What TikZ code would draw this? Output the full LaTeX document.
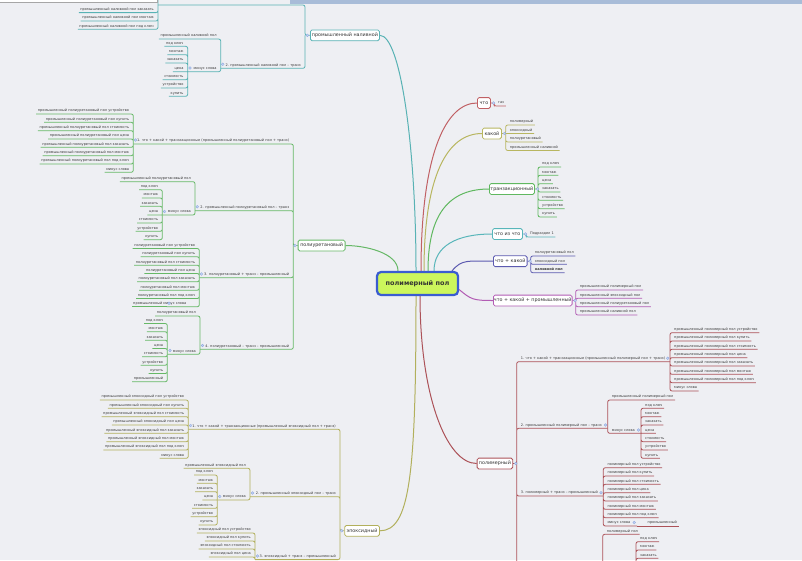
\documentclass[tikz,border=0pt]{standalone}
\usepackage{fontspec}
\setmainfont{DejaVu Sans}
\usetikzlibrary{positioning}

\definecolor{bgpaper}{RGB}{238,239,243}
\definecolor{topbar}{RGB}{168,188,216}
\definecolor{cnal}{RGB}{88,178,180}
\definecolor{cpur}{RGB}{102,184,102}
\definecolor{cepo}{RGB}{178,176,92}
\definecolor{cpm}{RGB}{172,82,88}
\definecolor{cchto}{RGB}{192,96,100}
\definecolor{ckak}{RGB}{184,182,96}
\definecolor{ctr}{RGB}{96,184,96}
\definecolor{ciz}{RGB}{88,182,186}
\definecolor{cck}{RGB}{92,90,176}
\definecolor{cckp}{RGB}{178,92,180}
\definecolor{mfill}{RGB}{196,212,244}
\definecolor{mdraw}{RGB}{140,166,222}
\definecolor{cfill}{RGB}{204,246,92}
\definecolor{cdraw}{RGB}{58,92,208}

\pgfdeclarelayer{bg}
\pgfdeclarelayer{lines}
\pgfsetlayers{bg,lines,main}

\begin{document}
\begin{tikzpicture}[x=1pt, y=-1pt,
  leaf/.style={inner xsep=1.5pt, inner ysep=1.3pt, text height=2.7pt, text depth=0.7pt, font=\fontsize{3.5}{4.2}\selectfont, text=black!78},
  leafR/.style={leaf, anchor=south west},
  leafL/.style={leaf, anchor=south east},
  topic/.style={rectangle, draw, fill=white, rounded corners=1.6pt, line width=0.8pt, minimum height=10.8pt, inner sep=0pt, anchor=west, font=\fontsize{4.8}{5.5}\selectfont, text=black!80},
  central/.style={rectangle, draw=cdraw, fill=cfill, rounded corners=4pt, line width=2.2pt, minimum width=81pt, minimum height=23pt, font=\fontsize{6.5}{7}\selectfont\bfseries, text=black!80},
  foldmark/.style={circle, fill=mfill, draw=mdraw, line width=0.3pt, minimum size=2.8pt, inner sep=0pt},
  elbow/.style={line width=0.8pt, rounded corners=2pt},
  branch/.style={line width=1pt}
]
\useasboundingbox (0,0) rectangle (802,560);
\begin{pgfonlayer}{bg}
\fill[bgpaper] (0,0) rectangle (802,560);
\end{pgfonlayer}

% centre and main topics
\node[central] (pol) at (417.5,283.5) {полимерный пол};
\node[topic, draw=cchto, minimum width=13pt] (chto) at (477,103) {что};
\node[topic, draw=ckak, minimum width=19pt] (kakoy) at (482,133.5) {какой};
\node[topic, draw=ctr, minimum width=45pt] (tranz) at (489,189) {транзакционный};
\node[topic, draw=ciz, minimum width=30pt] (chtoiz) at (492,234) {что из что};
\node[topic, draw=cck, minimum width=33.7pt] (chk) at (493,261.2) {что + какой};
\node[topic, draw=cckp, minimum width=78.7pt] (chkp) at (493,300.5) {что + какой + промышленный};
\node[topic, draw=cpm, minimum width=35.6pt] (polim) at (476.7,463.5) {полимерный};
\node[topic, draw=cnal, minimum width=69pt] (naliv) at (310,35.3) {промышленный наливной};
\node[topic, draw=cpur, minimum width=47pt] (poliur) at (297.7,245.5) {полиуретановый};
\node[topic, draw=cepo, minimum width=34.7pt] (epox) at (344.3,530.8) {эпоксидный};

\coordinate (chto-o) at (494,103);
\coordinate (kakoy-o) at (505.7,133.5);
\coordinate (tranz-o) at (538,189);
\coordinate (chtoiz-o) at (526,234);
\coordinate (chk-o) at (530.7,261.2);
\coordinate (chkp-o) at (575.7,300.5);
\coordinate (polim-o) at (516.7,463.5);
\coordinate (naliv-o) at (305,35.3);
\coordinate (poliur-o) at (293.3,245.5);
\coordinate (epox-o) at (340,530.8);

% что, какой, транзакционный, что из что
\node[leafR] (gaz) at (496.5,106) {газ};
\node[leafR] (kak1) at (508.2,125) {полимерный};
\node[leafR] (kak2) at (508.2,133.5) {эпоксидный};
\node[leafR] (kak3) at (508.2,142) {полиуретановый};
\node[leafR] (kak4) at (508.2,150.5) {промышленный наливной};
\node[leafR] (tr1) at (540.5,167) {под ключ};
\node[leafR] (tr2) at (540.5,175.3) {монтаж};
\node[leafR] (tr3) at (540.5,183.7) {цена};
\node[leafR] (tr4) at (540.5,192) {заказать};
\node[leafR] (tr5) at (540.5,200.3) {стоимость};
\node[leafR] (tr6) at (540.5,208.7) {устройство};
\node[leafR] (tr7) at (540.5,217) {купить};
\node[leafR] (iz1) at (528.5,237) {Подраздел 1};
\node[leafR] (ck1) at (533.2,256) {полиуретановый пол};
\node[leafR] (ck2) at (533.2,264.3) {эпоксидный пол};
\node[leafR, font=\fontsize{3.5}{4.2}\selectfont\bfseries] (ck3) at (533.2,272.7) {наливной пол};
\node[leafR] (ckp1) at (578.2,290) {промышленный полимерный пол};
\node[leafR] (ckp2) at (578.2,298.3) {промышленный эпоксидный пол};
\node[leafR] (ckp3) at (578.2,306.7) {промышленный полиуретановый пол};
\node[leafR] (ckp4) at (578.2,315) {промышленный наливной пол};

% полимерный
\node[leafR] (pm1) at (519.2,361.7) {1. что + какой + транзакционные (промышленный полимерный пол + транз)};
\coordinate (pm1-o) at (670,361.7);
\node[leafR] (pm1a) at (672.5,332.7) {промышленный полимерный пол устройство};
\node[leafR] (pm1b) at (672.5,341) {промышленный полимерный пол купить};
\node[leafR] (pm1c) at (672.5,349.3) {промышленный полимерный пол стоимость};
\node[leafR] (pm1d) at (672.5,357.7) {промышленный полимерный пол цена};
\node[leafR] (pm1e) at (672.5,366) {промышленный полимерный пол заказать};
\node[leafR] (pm1f) at (672.5,374.3) {промышленный полимерный пол монтаж};
\node[leafR] (pm1g) at (672.5,382.7) {промышленный полимерный пол под ключ};
\node[leafR] (pm1h) at (672.5,391) {минус слова};
\node[leafR] (pm2) at (519.2,428.3) {2. промышленный полимерный пол – транз};
\coordinate (pm2-o) at (607.7,428.3);
\node[leafR] (pm2a) at (610.2,400) {промышленный полимерный пол};
\node[leafR] (pm2m) at (610.2,433.3) {минус слова};
\coordinate (pm2m-o) at (641,433.3);
\node[leafR] (pm2m1) at (643.5,408.3) {под ключ};
\node[leafR] (pm2m2) at (643.5,416.7) {монтаж};
\node[leafR] (pm2m3) at (643.5,425) {заказать};
\node[leafR] (pm2m4) at (643.5,433.3) {цена};
\node[leafR] (pm2m5) at (643.5,441.7) {стоимость};
\node[leafR] (pm2m6) at (643.5,450) {устройство};
\node[leafR] (pm2m7) at (643.5,458.3) {купить};
\node[leafR] (pm3) at (519.2,496) {3. полимерный + транз – промышленный};
\coordinate (pm3-o) at (603.3,496);
\node[leafR] (pm3a) at (605.8,467.7) {полимерный пол устройство};
\node[leafR] (pm3b) at (605.8,476) {полимерный пол купить};
\node[leafR] (pm3c) at (605.8,484.3) {полимерный пол стоимость};
\node[leafR] (pm3d) at (605.8,492.7) {полимерный пол цена};
\node[leafR] (pm3e) at (605.8,501) {полимерный пол заказать};
\node[leafR] (pm3f) at (605.8,509.3) {полимерный пол монтаж};
\node[leafR] (pm3g) at (605.8,517.7) {полимерный пол под ключ};
\node[leafR] (pm3m) at (605.8,526) {минус слова};
\coordinate (pm3m-o) at (637,526);
\node[leafR] (pm3x) at (646,526) {промышленный};
\coordinate (pm4-o) at (602.7,585);
\node[leafR] (pm4a) at (605.2,534.3) {полимерный пол};
\coordinate (pm4m-o) at (636,590);
\node[leafR] (pm4m1) at (638.5,541.7) {под ключ};
\node[leafR] (pm4m2) at (638.5,550) {монтаж};
\node[leafR] (pm4m3) at (638.5,558.3) {заказать};

% промышленный наливной
\coordinate (nal1-o) at (158,5);
\coordinate (nal1-t) at (158,-20);
\node[leafL] (nal1a) at (155.5,12.6) {промышленный наливной пол заказать};
\node[leafL] (nal1b) at (155.5,21) {промышленный наливной пол монтаж};
\node[leafL] (nal1c) at (155.5,29.3) {промышленный наливной пол под ключ};
\node[leafL] (nal2) at (302.5,68.3) {2. промышленный наливной пол – транз};
\coordinate (nal2-o) at (220.7,68.3);
\node[leafL] (nal2a) at (218.2,39) {промышленный наливной пол};
\node[leafL] (nal2m) at (218.2,71.7) {минус слова};
\coordinate (nal2m-o) at (187.7,71.7);
\node[leafL] (nal2m1) at (185.2,46.3) {под ключ};
\node[leafL] (nal2m2) at (185.2,54.7) {монтаж};
\node[leafL] (nal2m3) at (185.2,63) {заказать};
\node[leafL] (nal2m4) at (185.2,71.7) {цена};
\node[leafL] (nal2m5) at (185.2,79.7) {стоимость};
\node[leafL] (nal2m6) at (185.2,88) {устройство};
\node[leafL] (nal2m7) at (185.2,96.3) {купить};

% полиуретановый
\node[leafL] (pu1) at (290.8,144) {1. что + какой + транзакционные (промышленный полиуретановый пол + транз)};
\coordinate (pu1-o) at (133.3,144);
\node[leafL] (pu1a) at (130.8,114) {промышленный полиуретановый пол устройство};
\node[leafL] (pu1b) at (130.8,122.3) {промышленный полиуретановый пол купить};
\node[leafL] (pu1c) at (130.8,130.7) {промышленный полиуретановый пол стоимость};
\node[leafL] (pu1d) at (130.8,139) {промышленный полиуретановый пол цена};
\node[leafL] (pu1e) at (130.8,147.3) {промышленный полиуретановый пол заказать};
\node[leafL] (pu1f) at (130.8,155.7) {промышленный полиуретановый пол монтаж};
\node[leafL] (pu1g) at (130.8,164) {промышленный полиуретановый пол под ключ};
\node[leafL] (pu1h) at (130.8,172.3) {минус слова};
\node[leafL] (pu2) at (290.8,210.7) {2. промышленный полиуретановый пол – транз};
\coordinate (pu2-o) at (195,210.7);
\node[leafL] (pu2a) at (192.5,181.7) {промышленный полиуретановый пол};
\node[leafL] (pu2m) at (192.5,215) {минус слова};
\coordinate (pu2m-o) at (162.3,215);
\node[leafL] (pu2m1) at (159.8,189.7) {под ключ};
\node[leafL] (pu2m2) at (159.8,198) {монтаж};
\node[leafL] (pu2m3) at (159.8,206.3) {заказать};
\node[leafL] (pu2m4) at (159.8,215) {цена};
\node[leafL] (pu2m5) at (159.8,223) {стоимость};
\node[leafL] (pu2m6) at (159.8,231.3) {устройство};
\node[leafL] (pu2m7) at (159.8,239.7) {купить};
\node[leafL] (pu3) at (290.8,277.7) {3. полиуретановый + транз – промышленный};
\coordinate (pu3-o) at (199.3,277.7);
\node[leafL] (pu3a) at (196.8,248.5) {полиуретановый пол устройство};
\node[leafL] (pu3b) at (196.8,256.8) {полиуретановый пол купить};
\node[leafL] (pu3c) at (196.8,265.2) {полиуретановый пол стоимость};
\node[leafL] (pu3d) at (196.8,273.5) {полиуретановый пол цена};
\node[leafL] (pu3e) at (196.8,281.8) {полиуретановый пол заказать};
\node[leafL] (pu3f) at (196.8,290.2) {полиуретановый пол монтаж};
\node[leafL] (pu3g) at (196.8,298.5) {полиуретановый пол под ключ};
\node[leafL] (pu3m) at (188,306.8) {минус слова};
\coordinate (pu3m-o) at (166.7,306.8);
\node[leafL] (pu3x) at (164.2,306.8) {промышленный};
\node[leafL] (pu4) at (290.8,349.3) {4. полиуретановый – транз – промышленный};
\coordinate (pu4-o) at (200,349.3);
\node[leafL] (pu4a) at (197.5,316) {полиуретановый пол};
\node[leafL] (pu4m) at (197.5,354.3) {минус слова};
\coordinate (pu4m-o) at (167.3,354.3);
\node[leafL] (pu4m1) at (164.8,323.5) {под ключ};
\node[leafL] (pu4m2) at (164.8,331.8) {монтаж};
\node[leafL] (pu4m3) at (164.8,340.2) {заказать};
\node[leafL] (pu4m4) at (164.8,348.5) {цена};
\node[leafL] (pu4m5) at (164.8,356.8) {стоимость};
\node[leafL] (pu4m6) at (164.8,365.2) {устройство};
\node[leafL] (pu4m7) at (164.8,373.5) {купить};
\node[leafL] (pu4m8) at (164.8,381.8) {промышленный};

% эпоксидный
\node[leafL] (ep1) at (337.5,429.3) {1. что + какой + транзакционные (промышленный эпоксидный пол + транз)};
\coordinate (ep1-o) at (188.3,429.3);
\node[leafL] (ep1a) at (185.8,400) {промышленный эпоксидный пол устройство};
\node[leafL] (ep1b) at (185.8,408.3) {промышленный эпоксидный пол купить};
\node[leafL] (ep1c) at (185.8,416.7) {промышленный эпоксидный пол стоимость};
\node[leafL] (ep1d) at (185.8,425) {промышленный эпоксидный пол цена};
\node[leafL] (ep1e) at (185.8,433.3) {промышленный эпоксидный пол заказать};
\node[leafL] (ep1f) at (185.8,441.7) {промышленный эпоксидный пол монтаж};
\node[leafL] (ep1g) at (185.8,450) {промышленный эпоксидный пол под ключ};
\node[leafL] (ep1h) at (185.8,458.3) {минус слова};
\node[leafL] (ep2) at (337.5,496.7) {2. промышленный эпоксидный пол – транз};
\coordinate (ep2-o) at (250,496.7);
\node[leafL] (ep2a) at (247.5,468.3) {промышленный эпоксидный пол};
\node[leafL] (ep2m) at (247.5,500) {минус слова};
\coordinate (ep2m-o) at (217.3,500);
\node[leafL] (ep2m1) at (214.8,475) {под ключ};
\node[leafL] (ep2m2) at (214.8,483.3) {монтаж};
\node[leafL] (ep2m3) at (214.8,491.7) {заказать};
\node[leafL] (ep2m4) at (214.8,500) {цена};
\node[leafL] (ep2m5) at (214.8,508.3) {стоимость};
\node[leafL] (ep2m6) at (214.8,516.7) {устройство};
\node[leafL] (ep2m7) at (214.8,525) {купить};
\node[leafL] (ep3) at (337.5,559.6) {3. эпоксидный + транз – промышленный};
\coordinate (ep3-o) at (255,559.6);
\node[leafL] (ep3a) at (252.5,533) {эпоксидный пол устройство};
\node[leafL] (ep3b) at (252.5,541) {эпоксидный пол купить};
\node[leafL] (ep3c) at (252.5,549) {эпоксидный пол стоимость};
\node[leafL] (ep3d) at (252.5,557) {эпоксидный пол цена};

\begin{pgfonlayer}{lines}
% curves from the centre
\draw[branch, cnal] ([xshift=-1.5pt]pol.north) .. controls +(0,-122) and +(21,0) .. (naliv.east);
\draw[branch, cchto] ([xshift=3.5pt]pol.north) .. controls +(0,-120) and +(-30,0) .. (chto.west);
\draw[branch, ckak] ([xshift=6.5pt]pol.north) .. controls +(0,-95) and +(-35,0) .. (kakoy.west);
\draw[branch, ctr] ([xshift=10.5pt]pol.north) .. controls +(0,-50) and +(-45,0) .. (tranz.west);
\draw[branch, ciz] ([xshift=16.5pt]pol.north) .. controls +(0,-25) and +(-35,0) .. (chtoiz.west);
\draw[branch, cck] ([xshift=34.5pt]pol.north) .. controls +(10,-12) and +(-25,0) .. (chk.west);
\draw[branch, cckp] ([yshift=-6pt]pol.east) .. controls +(12,10) and +(-20,0) .. (chkp.west);
\draw[branch, cpur] ([xshift=-19.5pt]pol.north) .. controls +(0,-18) and +(20,0) .. (poliur.east);
\draw[branch, cepo] ([xshift=-1.5pt]pol.south) .. controls +(0,180) and +(30,0) .. (epox.east);
\draw[branch, cpm] ([xshift=2.5pt]pol.south) .. controls +(0,100) and +(-30,0) .. (polim.west);

% right side
\draw[elbow, cchto] (chto.east) -- (chto-o) |- (gaz.south east);
\draw[elbow, ckak] (kakoy.east) -- (kakoy-o) |- (kak1.south east) (kakoy-o) -- (kak2.south east)
  (kakoy-o) |- (kak3.south east) (kakoy-o) |- (kak4.south east);
\draw[elbow, ctr] (tranz.east) -- (tranz-o) |- (tr1.south east) (tranz-o) |- (tr2.south east)
  (tranz-o) |- (tr3.south east) (tranz-o) |- (tr4.south east) (tranz-o) |- (tr5.south east)
  (tranz-o) |- (tr6.south east) (tranz-o) |- (tr7.south east);
\draw[elbow, ciz] (chtoiz.east) -- (chtoiz-o) |- (iz1.south east);
\draw[elbow, cck] (chk.east) -- (chk-o) |- (ck1.south east) (chk-o) |- (ck2.south east) (chk-o) |- (ck3.south east);
\draw[elbow, cckp] (chkp.east) -- (chkp-o) |- (ckp1.south east) (chkp-o) |- (ckp2.south east)
  (chkp-o) |- (ckp3.south east) (chkp-o) |- (ckp4.south east);
\draw[elbow, cpm] (polim.east) -- (polim-o) |- (pm1-o) (polim-o) |- (pm2-o) (polim-o) |- (pm3-o) (polim-o) |- (pm4-o);
\draw[elbow, cpm] (pm1-o) |- (pm1a.south east) (pm1-o) |- (pm1b.south east) (pm1-o) |- (pm1c.south east)
  (pm1-o) |- (pm1d.south east) (pm1-o) |- (pm1e.south east) (pm1-o) |- (pm1f.south east)
  (pm1-o) |- (pm1g.south east) (pm1-o) |- (pm1h.south east);
\draw[elbow, cpm] (pm2-o) |- (pm2a.south east) (pm2-o) |- (pm2m-o);
\draw[elbow, cpm] (pm2m-o) |- (pm2m1.south east) (pm2m-o) |- (pm2m2.south east) (pm2m-o) |- (pm2m3.south east)
  (pm2m-o) -- (pm2m4.south east) (pm2m-o) |- (pm2m5.south east) (pm2m-o) |- (pm2m6.south east)
  (pm2m-o) |- (pm2m7.south east);
\draw[elbow, cpm] (pm3-o) |- (pm3a.south east) (pm3-o) |- (pm3b.south east) (pm3-o) |- (pm3c.south east)
  (pm3-o) |- (pm3d.south east) (pm3-o) |- (pm3e.south east) (pm3-o) |- (pm3f.south east)
  (pm3-o) |- (pm3g.south east) (pm3-o) |- (pm3m-o);
\draw[elbow, cpm] (pm3m-o) -- (pm3x.south east);
\draw[elbow, cpm] (pm4-o) |- (pm4a.south east) (pm4-o) |- (pm4m-o);
\draw[elbow, cpm] (pm4m-o) |- (pm4m1.south east) (pm4m-o) |- (pm4m2.south east) (pm4m-o) |- (pm4m3.south east);

% left side
\draw[elbow, cnal] (naliv.west) -- (naliv-o) |- (nal1-o) (naliv-o) |- (nal2-o);
\draw[elbow, cnal] (nal1-t) -- (nal1-o) (nal1-o) |- (nal1a.south west) (nal1-o) |- (nal1b.south west) (nal1-o) |- (nal1c.south west);
\draw[elbow, cnal] (nal2-o) |- (nal2a.south west) (nal2-o) |- (nal2m-o);
\draw[elbow, cnal] (nal2m-o) |- (nal2m1.south west) (nal2m-o) |- (nal2m2.south west) (nal2m-o) |- (nal2m3.south west)
  (nal2m-o) -- (nal2m4.south west) (nal2m-o) |- (nal2m5.south west) (nal2m-o) |- (nal2m6.south west)
  (nal2m-o) |- (nal2m7.south west);
\draw[elbow, cpur] (poliur.west) -- (poliur-o) |- (pu1-o) (poliur-o) |- (pu2-o) (poliur-o) |- (pu3-o) (poliur-o) |- (pu4-o);
\draw[elbow, cpur] (pu1-o) |- (pu1a.south west) (pu1-o) |- (pu1b.south west) (pu1-o) |- (pu1c.south west)
  (pu1-o) |- (pu1d.south west) (pu1-o) |- (pu1e.south west) (pu1-o) |- (pu1f.south west)
  (pu1-o) |- (pu1g.south west) (pu1-o) |- (pu1h.south west);
\draw[elbow, cpur] (pu2-o) |- (pu2a.south west) (pu2-o) |- (pu2m-o);
\draw[elbow, cpur] (pu2m-o) |- (pu2m1.south west) (pu2m-o) |- (pu2m2.south west) (pu2m-o) |- (pu2m3.south west)
  (pu2m-o) -- (pu2m4.south west) (pu2m-o) |- (pu2m5.south west) (pu2m-o) |- (pu2m6.south west)
  (pu2m-o) |- (pu2m7.south west);
\draw[elbow, cpur] (pu3-o) |- (pu3a.south west) (pu3-o) |- (pu3b.south west) (pu3-o) |- (pu3c.south west)
  (pu3-o) |- (pu3d.south west) (pu3-o) |- (pu3e.south west) (pu3-o) |- (pu3f.south west)
  (pu3-o) |- (pu3g.south west) (pu3-o) |- (pu3m-o);
\draw[elbow, cpur] (pu3m-o) -- (pu3x.south west);
\draw[elbow, cpur] (pu4-o) |- (pu4a.south west) (pu4-o) |- (pu4m-o);
\draw[elbow, cpur] (pu4m-o) |- (pu4m1.south west) (pu4m-o) |- (pu4m2.south west) (pu4m-o) |- (pu4m3.south west)
  (pu4m-o) |- (pu4m4.south west) (pu4m-o) |- (pu4m5.south west) (pu4m-o) |- (pu4m6.south west)
  (pu4m-o) |- (pu4m7.south west) (pu4m-o) |- (pu4m8.south west);
\draw[elbow, cepo] (epox.west) -- (epox-o) |- (ep1-o) (epox-o) |- (ep2-o) (epox-o) |- (ep3-o);
\draw[elbow, cepo] (ep1-o) |- (ep1a.south west) (ep1-o) |- (ep1b.south west) (ep1-o) |- (ep1c.south west)
  (ep1-o) |- (ep1d.south west) (ep1-o) |- (ep1e.south west) (ep1-o) |- (ep1f.south west)
  (ep1-o) |- (ep1g.south west) (ep1-o) |- (ep1h.south west);
\draw[elbow, cepo] (ep2-o) |- (ep2a.south west) (ep2-o) |- (ep2m-o);
\draw[elbow, cepo] (ep2m-o) |- (ep2m1.south west) (ep2m-o) |- (ep2m2.south west) (ep2m-o) |- (ep2m3.south west)
  (ep2m-o) -- (ep2m4.south west) (ep2m-o) |- (ep2m5.south west) (ep2m-o) |- (ep2m6.south west)
  (ep2m-o) |- (ep2m7.south west);
\draw[elbow, cepo] (ep3-o) |- (ep3a.south west) (ep3-o) |- (ep3b.south west) (ep3-o) |- (ep3c.south west)
  (ep3-o) |- (ep3d.south west);
\end{pgfonlayer}

% fold markers
\node[foldmark] (chto-m) at ([xshift=2.6pt]chto.east) {};
\node[foldmark] (kakoy-m) at ([xshift=2.6pt]kakoy.east) {};
\node[foldmark] (tranz-m) at ([xshift=2.6pt]tranz.east) {};
\node[foldmark] (chtoiz-m) at ([xshift=2.6pt]chtoiz.east) {};
\node[foldmark] (chk-m) at ([xshift=2.6pt]chk.east) {};
\node[foldmark] (chkp-m) at ([xshift=2.6pt]chkp.east) {};
\node[foldmark] (polim-m) at ([xshift=2.6pt]polim.east) {};
\node[foldmark] (naliv-m) at ([xshift=-2.6pt]naliv.west) {};
\node[foldmark] (poliur-m) at ([xshift=-2.6pt]poliur.west) {};
\node[foldmark] (epox-m) at ([xshift=-2.6pt]epox.west) {};
\node[foldmark] (pm1-m) at (667.7,358.3) {};
\node[foldmark] (pm2-m) at (605.5,425) {};
\node[foldmark] (pm2m-m) at (638.5,430) {};
\node[foldmark] (pm3-m) at (601,492.7) {};
\node[foldmark] (pm3m-m) at (634.3,522.5) {};
\node[foldmark] (nal2-m) at (222.8,64.3) {};
\node[foldmark] (nal2m-m) at (190,68) {};
\node[foldmark] (pu1-m) at (135.5,140) {};
\node[foldmark] (pu2-m) at (197.3,206.7) {};
\node[foldmark] (pu2m-m) at (164.6,211.5) {};
\node[foldmark] (pu3-m) at (201.6,274) {};
\node[foldmark] (pu3m-m) at (169,303.3) {};
\node[foldmark] (pu4-m) at (202.5,345.5) {};
\node[foldmark] (pu4m-m) at (170,350.5) {};
\node[foldmark] (ep1-m) at (190.6,425.5) {};
\node[foldmark] (ep2-m) at (252.5,493) {};
\node[foldmark] (ep2m-m) at (219.8,496.5) {};
\node[foldmark] (ep3-m) at (257.5,556) {};

% window edge at the top
\fill[white] (0,0) rectangle (157,2.5);
\draw[black!35, line width=0.5pt] (0,2.5) -- (157,2.5) -- (157,0);
\fill[topbar] (290,0) rectangle (802,4);
\end{tikzpicture}
\end{document}
